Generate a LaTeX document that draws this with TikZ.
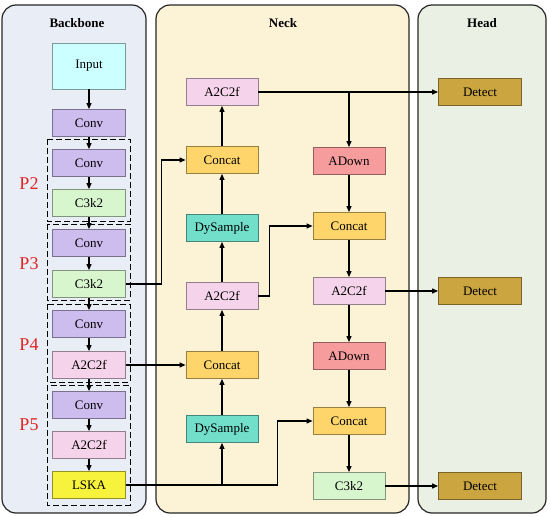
\documentclass[tikz,border=0pt]{standalone}
\usepackage{fontspec}
\setmainfont{Liberation Serif}
\usepackage{xcolor}
\usetikzlibrary{arrows.meta, positioning, calc}
\definecolor{BackBg}{HTML}{E9EEF6}
\definecolor{NeckBg}{HTML}{FCF2D6}
\definecolor{HeadBg}{HTML}{EAF0E3}
\definecolor{InCol}{HTML}{CCFFFF}
\definecolor{ConvCol}{HTML}{CDBCEE}
\definecolor{CkCol}{HTML}{D8F6CE}
\definecolor{AttCol}{HTML}{F5D3EA}
\definecolor{LskaCol}{HTML}{F7F23C}
\definecolor{CatCol}{HTML}{FDD56A}
\definecolor{DyCol}{HTML}{72DFCB}
\definecolor{DownCol}{HTML}{F79C9C}
\definecolor{DetCol}{HTML}{CBA540}
\definecolor{PRed}{HTML}{E02424}
\tikzset{
  panel/.style={draw=black!85, line width=1.2pt, rounded corners=14pt},
  blk/.style={rectangle, draw=#1!60!black, fill=#1, line width=0.8pt,
              minimum width=73pt, minimum height=27pt, inner sep=1pt,
              font=\fontsize{13}{15}\selectfont},
  inputB/.style={blk=InCol, minimum height=46pt},
  convB/.style={blk=ConvCol},
  ckB/.style={blk=CkCol},
  attB/.style={blk=AttCol},
  lskaB/.style={blk=LskaCol},
  catB/.style={blk=CatCol, minimum width=72pt},
  dyB/.style={blk=DyCol, minimum width=72pt},
  downB/.style={blk=DownCol, minimum width=72pt},
  detB/.style={blk=DetCol, minimum width=83pt},
  grp/.style={draw=black, line width=1pt, dash pattern=on 6pt off 3pt},
  ptag/.style={text=PRed, font=\fontsize{18}{20}\selectfont},
  ttl/.style={font=\fontsize{13}{15}\selectfont\bfseries},
  arr/.style={draw=black, line width=1.1pt, -{Triangle[length=6pt, width=5pt]}},
}
\begin{document}
\begin{tikzpicture}[x=1pt, y=-1pt]
    \useasboundingbox (0,0) rectangle (550,517);
    %% panels
    \draw[panel, fill=BackBg] (2,5) rectangle (146,513);
    \draw[panel, fill=NeckBg] (156,5) rectangle (409,513);
    \draw[panel, fill=HeadBg] (418,5) rectangle (546,513);
    \node[ttl] (tb) at (77,23) {Backbone};
    \node[ttl] (tn) at (283,23) {Neck};
    \node[ttl] (th) at (482,23) {Head};
    %% stage groups
    \draw[grp] (47,139) rectangle (130,221);
    \draw[grp] (47,224) rectangle (130,300);
    \draw[grp] (47,304) rectangle (130,382);
    \draw[grp] (47,385) rectangle (130,505);
    \node[ptag] (p2) at (29,184) {P2};
    \node[ptag] (p3) at (29,264) {P3};
    \node[ptag] (p4) at (29,345) {P4};
    \node[ptag] (p5) at (29,425) {P5};
    %% backbone
    \node[inputB] (inp) at (89,66) {Input};
    \node[convB] (b1) at (89,123) {Conv};
    \node[convB] (b2) at (89,163) {Conv};
    \node[ckB] (b3) at (89,203) {C3k2};
    \node[convB] (b4) at (89,243) {Conv};
    \node[ckB] (b5) at (89,284) {C3k2};
    \node[convB] (b6) at (89,324) {Conv};
    \node[attB] (b7) at (89,365) {A2C2f};
    \node[convB] (b8) at (89,405) {Conv};
    \node[attB] (b9) at (89,445) {A2C2f};
    \node[lskaB] (b10) at (89,485) {LSKA};
    %% neck, up path
    \node[attB, minimum width=72pt] (n1) at (222,92) {A2C2f};
    \node[catB] (n2) at (222,160) {Concat};
    \node[dyB] (n3) at (222,228) {DySample};
    \node[attB, minimum width=72pt] (n4) at (222,296) {A2C2f};
    \node[catB] (n5) at (222,365) {Concat};
    \node[dyB] (n6) at (222,429) {DySample};
    %% neck, down path
    \node[downB] (m1) at (349,161) {ADown};
    \node[catB] (m2) at (349,226) {Concat};
    \node[attB, minimum width=72pt] (m3) at (349,291) {A2C2f};
    \node[downB] (m4) at (349,356) {ADown};
    \node[catB] (m5) at (349,421) {Concat};
    \node[ckB, minimum width=72pt] (m6) at (349,486) {C3k2};
    %% head
    \node[detB] (d1) at (480,92) {Detect};
    \node[detB] (d2) at (480,291) {Detect};
    \node[detB] (d3) at (480,486) {Detect};
    %% chains
    \foreach \a/\b in {inp/b1,b1/b2,b2/b3,b3/b4,b4/b5,b5/b6,b6/b7,b7/b8,b8/b9,b9/b10,
                       n6/n5,n5/n4,n4/n3,n3/n2,n2/n1,
                       m1/m2,m2/m3,m3/m4,m4/m5,m5/m6}{
      \draw[arr] (\a) -- (\b);
    }
    %% lateral links
    \draw[arr] (b5.east) -| ([xshift=-24pt]n2.west) -- (n2.west);
    \draw[arr] (b7.east) -- (n5.west);
    \draw[arr] (b10.east) -| ([xshift=-35pt]m5.west) -- (m5.west);
    \draw[arr] (n6.south |- b10.east) -- (n6.south);
    \draw[arr] (n4.east) -| ([xshift=-43pt]m2.west) -- (m2.west);
    \draw[arr] (n1.east) -- (d1.west);
    \draw[arr] (m1.north |- n1.east) -- (m1.north);
    \draw[arr] (m3.east) -- (d2.west);
    \draw[arr] (m6.east) -- (d3.west);
\end{tikzpicture}
\end{document}
